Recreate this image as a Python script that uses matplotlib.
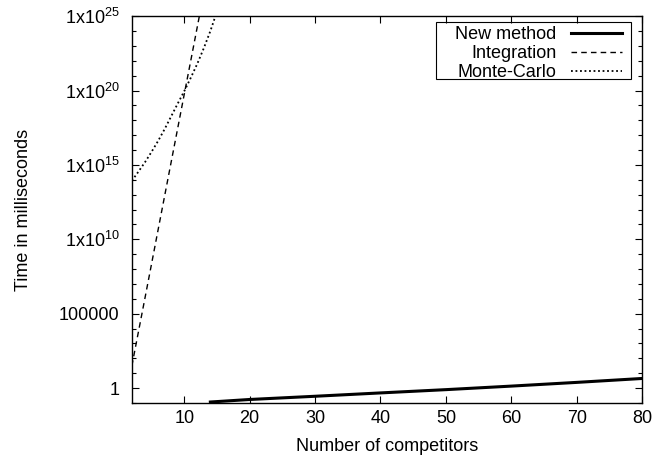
import matplotlib
matplotlib.use("Agg")
import matplotlib.pyplot as plt
from matplotlib.patches import Rectangle
from matplotlib.ticker import FixedLocator, FixedFormatter, NullFormatter

plt.rcParams['font.family'] = ['Liberation Sans', 'DejaVu Sans']
plt.rcParams['mathtext.default'] = 'regular'

# --- data ---
new_n = [14, 20, 30, 40, 50, 60, 70, 80]
new_ms = [0.115, 0.17, 0.28, 0.47, 0.78, 1.35, 2.4, 4.4]

integ_n = [2, 3, 4, 5, 6, 7, 8, 9, 10, 11, 12, 13]
integ_ms = [3.1e1, 5.9e3, 1.1e6, 2.1e8, 4.1e10, 7.8e12, 1.5e15, 2.8e17,
            5.4e19, 1.0e22, 1.9e24, 3.7e26]

mc_n = [2, 3, 4, 5, 6, 7, 8, 9, 10, 11, 12, 13, 14, 15]
mc_ms = [8.5e13, 3.5e14, 1.5e15, 7.4e15, 4.0e16, 2.5e17, 1.8e18, 1.3e19,
         8.9e19, 7.1e20, 6.3e21, 7.1e22, 1.0e24, 2.0e25]

xticks = [10, 20, 30, 40, 50, 60, 70, 80]
yticks = [1, 1e5, 1e10, 1e15, 1e20, 1e25]
ytick_labels = ['1', '100000', '1x10$^{10}$', '1x10$^{15}$', '1x10$^{20}$', '1x10$^{25}$']
yminor = [10.0 ** k for k in range(-1, 26) if k % 5 != 0]

fig = plt.figure(figsize=(6.56, 4.61), dpi=100)
ax = fig.add_axes([0.201, 0.126, 0.778, 0.839])

ax.plot(new_n, new_ms, color='black', lw=2.2, label='New method')
ax.plot(integ_n, integ_ms, color='black', lw=1.0, dashes=(4, 3), label='Integration')
ax.plot(mc_n, mc_ms, color='black', lw=1.3, dashes=(1, 1.5), label='Monte-Carlo')

ax.set_yscale('log')
ax.set_xlim(2, 80)
ax.set_ylim(0.1, 1e25)

ax.xaxis.set_major_locator(FixedLocator(xticks))
ax.yaxis.set_major_locator(FixedLocator(yticks))
ax.yaxis.set_major_formatter(FixedFormatter(ytick_labels))
ax.yaxis.set_minor_locator(FixedLocator(yminor))
ax.yaxis.set_minor_formatter(NullFormatter())
ax.tick_params(which='both', direction='in', top=True, right=True, labelsize=13, width=0.8)
ax.tick_params(which='major', length=5)
ax.tick_params(which='minor', length=3)
ax.tick_params(axis='y', which='major', pad=9)
ax.tick_params(axis='x', which='major', pad=5)

for s in ax.spines.values():
    s.set_linewidth(1.0)

ax.set_xlabel('Number of competitors', fontsize=13)
ax.set_ylabel('Time in milliseconds', fontsize=13)
ax.xaxis.set_label_coords(0.5, -0.092)
ax.yaxis.set_label_coords(-0.195, 0.5)

# gnuplot style key: text right aligned, sample on the right, loose box
leg = ax.legend(loc='upper right', bbox_to_anchor=(0.963, 0.979), borderaxespad=0,
                markerfirst=False, fontsize=13, frameon=False,
                handlelength=2.8, labelspacing=0.12, borderpad=0.1,
                handletextpad=0.8)
for t in leg.get_texts():
    t.set_ha('right')
ax.add_patch(Rectangle((0.596, 0.837), 0.382, 0.1475, transform=ax.transAxes,
                       fill=False, edgecolor='black', lw=0.8, clip_on=False, zorder=5))

fig.savefig('out.png', dpi=100)
